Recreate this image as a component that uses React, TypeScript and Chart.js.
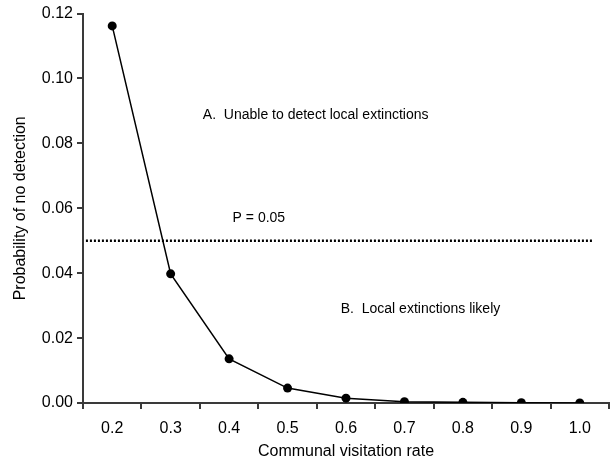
import React, { useEffect, useRef } from "react";
import { Chart, registerables } from "chart.js";

Chart.register(...registerables);

const categories = ["0.2", "0.3", "0.4", "0.5", "0.6", "0.7", "0.8", "0.9", "1.0"];
const probabilities = [0.1162, 0.0398, 0.0136, 0.0046, 0.0015, 0.0004, 0.0002, 0.0001, 0.0];
const thresholdX = [0.155, 1.024];
const thresholdY = [0.05, 0.05];
const yTicks = [0, 0.02, 0.04, 0.06, 0.08, 0.1, 0.12];
const annotations = [
  { text: "A.  Unable to detect local extinctions", x: 0.355, y: 0.0886 },
  { text: "P = 0.05", x: 0.406, y: 0.057 },
  { text: "B.  Local extinctions likely", x: 0.591, y: 0.0289 },
];

const FONT = "'Liberation Sans', Arial, sans-serif";
const AXIS_COLOR = "#3a3a3a";

const textPlugin = {
  id: "textAnnotations",
  afterDatasetsDraw(chart: any) {
    const ctx = chart.ctx;
    const xs = chart.scales.x2;
    const ys = chart.scales.y;
    ctx.save();
    ctx.font = `14px ${FONT}`;
    ctx.fillStyle = "#000";
    ctx.textAlign = "left";
    ctx.textBaseline = "middle";
    annotations.forEach((a) => {
      ctx.fillText(a.text, xs.getPixelForValue(a.x), ys.getPixelForValue(a.y));
    });
    ctx.restore();
  },
};

export default function App() {
  const ref = useRef<HTMLCanvasElement | null>(null);
  useEffect(() => {
    document.body.style.margin = "0";
    if (!ref.current) return;
    const chart = new Chart(ref.current, {
      type: "line",
      data: {
        labels: categories,
        datasets: [
          {
            data: probabilities,
            xAxisID: "x",
            borderColor: "#000",
            backgroundColor: "#000",
            borderWidth: 1.5,
            pointRadius: 4.5,
            pointHoverRadius: 4.5,
            pointBackgroundColor: "#000",
            pointBorderWidth: 0,
            tension: 0,
          },
          {
            data: thresholdX.map((x, i) => ({ x, y: thresholdY[i] })) as any,
            xAxisID: "x2",
            borderColor: "#000",
            borderWidth: 2.5,
            borderDash: [2, 2],
            pointRadius: 0,
            tension: 0,
          },
        ],
      },
      options: {
        responsive: false,
        animation: false,
        events: [],
        layout: { padding: { top: 13, right: 6, left: 0, bottom: 0 } },
        plugins: { legend: { display: false }, tooltip: { enabled: false } },
        scales: {
          x: {
            type: "category",
            offset: true,
            grid: {
              display: true,
              offset: true,
              drawOnChartArea: false,
              drawTicks: true,
              tickLength: 6,
              color: AXIS_COLOR,
              lineWidth: 2,
            },
            border: { display: true, color: AXIS_COLOR, width: 2 },
            ticks: { color: "#000", font: { family: FONT, size: 16 }, padding: 10, maxRotation: 0 },
            title: {
              display: true,
              text: "Communal visitation rate",
              color: "#000",
              font: { family: FONT, size: 16 },
              padding: { top: 0, bottom: 1 },
            },
            afterFit(scale: any) {
              scale.height = 59;
            },
          },
          x2: {
            type: "linear",
            display: false,
            min: 0.15,
            max: 1.05,
          },
          y: {
            type: "linear",
            min: 0,
            max: 0.12,
            afterBuildTicks(scale: any) {
              scale.ticks = yTicks.map((v) => ({ value: v }));
            },
            grid: {
              display: true,
              drawOnChartArea: false,
              drawTicks: true,
              tickLength: 6,
              color: AXIS_COLOR,
              lineWidth: 2,
            },
            border: { display: true, color: AXIS_COLOR, width: 2 },
            ticks: {
              color: "#000",
              font: { family: FONT, size: 16 },
              padding: 4,
              callback: (v: any) => Number(v).toFixed(2),
            },
            title: {
              display: true,
              text: "Probability of no detection",
              color: "#000",
              font: { family: FONT, size: 16 },
              padding: { top: 11, bottom: 0 },
            },
            afterFit(scale: any) {
              scale.width = 83;
            },
          },
        },
      },
      plugins: [textPlugin],
    });
    return () => chart.destroy();
  }, []);
  return (
    <div style={{ width: 615, height: 462 }}>
      <canvas ref={ref} width={615} height={462} />
    </div>
  );
}
